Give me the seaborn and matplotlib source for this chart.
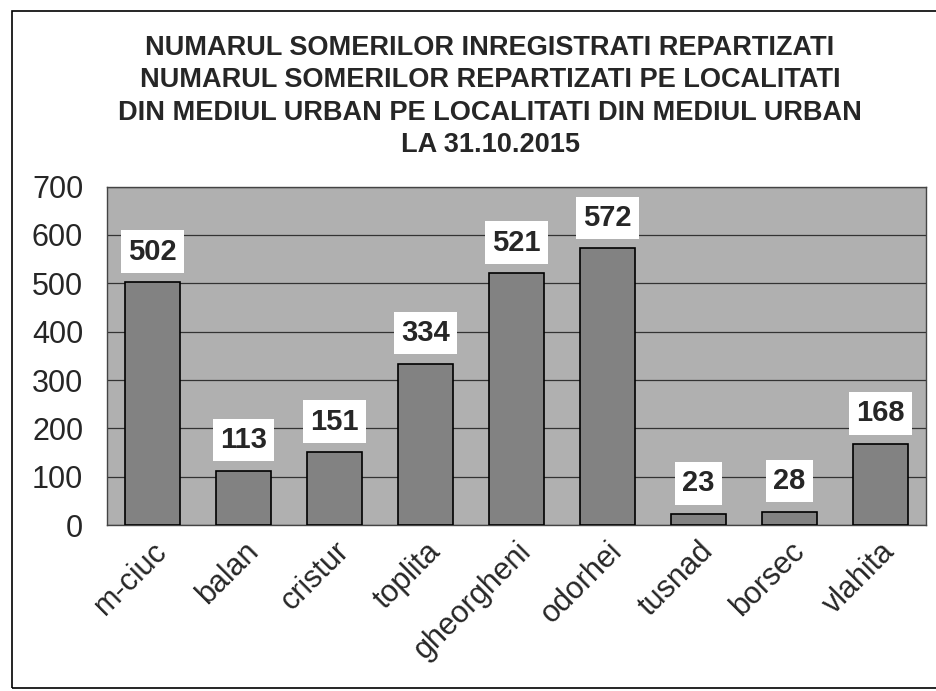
import matplotlib
matplotlib.use("Agg")
import matplotlib.pyplot as plt
import seaborn as sns
import pandas as pd
from matplotlib.patches import Rectangle

# data
localitati = ["m-ciuc", "balan", "cristur", "toplita", "gheorgheni",
              "odorhei", "tusnad", "borsec", "vlahita"]
someri = [502, 113, 151, 334, 521, 572, 23, 28, 168]
y_ticks = [0, 100, 200, 300, 400, 500, 600, 700]
titlu = ("NUMARUL SOMERILOR INREGISTRATI REPARTIZATI\n"
         "NUMARUL SOMERILOR REPARTIZATI PE LOCALITATI\n"
         "DIN MEDIUL URBAN PE LOCALITATI DIN MEDIUL URBAN\n"
         "LA 31.10.2015")

df = pd.DataFrame({"loc": localitati, "val": someri})

sns.set_style("white")
plt.rcParams["font.family"] = ["Liberation Sans", "DejaVu Sans"]

fig = plt.figure(figsize=(9.37, 6.91), dpi=100)
ax = fig.add_axes([0.114, 0.240, 0.874, 0.490])
ax.set_facecolor("#b0b0b0")

sns.barplot(data=df, x="loc", y="val", color="#828282", width=0.6,
            edgecolor="black", linewidth=1.2, saturation=1, ax=ax, zorder=3)

for i, v in enumerate(someri):
    ax.annotate(str(v), (i, v), xytext=(0, 22), textcoords="offset points",
                ha="center", va="center", fontsize=21, fontweight="bold",
                bbox=dict(boxstyle="square,pad=0.25", fc="white", ec="none"),
                zorder=5)

ax.set_ylim(0, 700)
ax.set_yticks(y_ticks)
ax.yaxis.grid(True, color="#333333", linewidth=0.9)
ax.set_axisbelow(True)
for s in ax.spines.values():
    s.set_color("#444444")
    s.set_linewidth(1)
ax.tick_params(axis="y", labelsize=22, length=0, pad=17)
ax.tick_params(axis="x", labelsize=22, length=0, pad=8)
plt.setp(ax.get_xticklabels(), rotation=45, ha="right", rotation_mode="anchor")
ax.set_xlabel("")
ax.set_ylabel("")

fig.text(0.523, 0.950, titlu, ha="center", va="top", fontsize=19.5,
         fontweight="bold", linespacing=1.33)

# frame around the chart
fig.patches.append(Rectangle((0.013, 0.004), 1.2, 0.98, transform=fig.transFigure,
                             fill=False, ec="black", lw=1.2))

fig.savefig("out.png", dpi=100)
